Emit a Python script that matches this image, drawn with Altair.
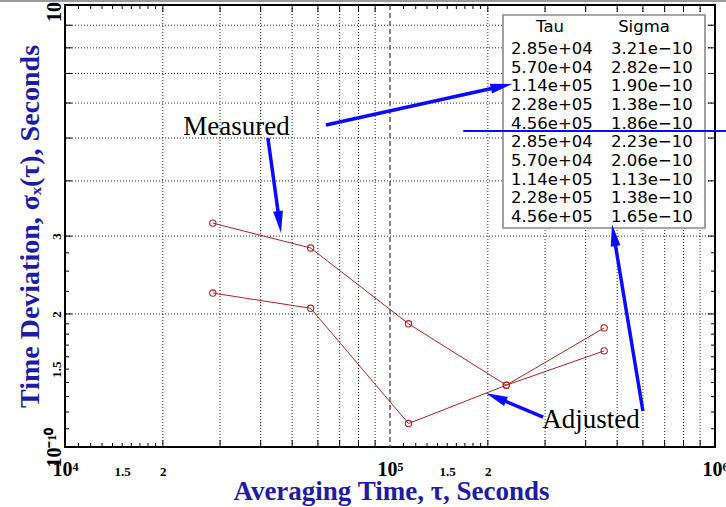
import math
import altair as alt
import pandas as pd

# ---------------- data ----------------
tau = [2.85e4, 5.70e4, 1.14e5, 2.28e5, 4.56e5]
sigma_measured = [3.21e-10, 2.82e-10, 1.90e-10, 1.38e-10, 1.86e-10]
sigma_adjusted = [2.23e-10, 2.06e-10, 1.13e-10, 1.38e-10, 1.65e-10]

x_tick_values = [1e4, 1.5e4, 2e4, 1e5, 1.5e5, 2e5, 1e6]
x_tick_labels = ["10⁴", "1.5", "2", "10⁵", "1.5", "2", "10⁶"]
y_tick_values = [1e-10, 1.5e-10, 2e-10, 3e-10, 1e-9]
y_tick_labels = ["10⁻¹⁰", "1.5", "2", "3", "10⁻⁹"]

grid_mantissas = [2, 3, 4, 5, 6, 7, 8, 9]
minor_mantissas = [1.1, 1.2, 1.3, 1.4, 1.5, 1.6, 1.7, 1.8, 1.9]
y_extra_minor = [2.25e-10, 2.5e-10, 2.75e-10]
x_decades = [1e4, 1e5]
y_decades = [1e-10]
dashed_tau = [1e5]

annot_text = ["Measured", "Adjusted"]
annot_tau = [3.37e4, 4.155e5]
annot_sigma = [5.08e-10, 1.104e-10]

arrow_tail_tau = [6.35e4, 4.21e4, 2.96e5, 6.0e5]
arrow_tail_sigma = [5.35e-10, 5.0e-10, 1.169e-10, 1.206e-10]
arrow_tip_tau = [2.38e5, 4.62e4, 1.97e5, 4.82e5]
arrow_tip_sigma = [6.63e-10, 3.05e-10, 1.325e-10, 3.19e-10]

hline_tau = [1.68e5, 1.3e6]
hline_sigma = [5.19e-10, 5.19e-10]

table_header = ["Tau", "Sigma"]

# ---------------- layout ----------------
W, H = 650, 442
SERIES_COLOR = "#b3201f"
BLUE = "#0a0aff"
TITLE_BLUE = "#1c1ca5"


def px_x(v):
    return (math.log10(v) - 4) / 2 * W


def px_y(v):
    return H - (math.log10(v) + 10) * H


def label_expr(values, labels):
    expr = "''"
    for v, l in reversed(list(zip(values, labels))):
        expr = f"abs(datum.value - {v!r}) < {abs(v) * 1e-6!r} ? '{l}' : {expr}"
    return expr


big_test = "abs(log(datum.value)/LN10 - round(log(datum.value)/LN10)) < 0.001"

xenc = alt.X(
    "tau:Q",
    scale=alt.Scale(type="log", domain=[1e4, 1e6], nice=False),
    axis=alt.Axis(
        values=x_tick_values,
        labelExpr=label_expr(x_tick_values, x_tick_labels),
        labelFont="Liberation Serif",
        labelFontWeight="bold",
        labelFontSize={"condition": {"test": big_test, "value": 20}, "value": 13},
        labelColor="black",
        labelPadding=28,
        labelBaseline="alphabetic",
        labelOverlap=False,
        labelBound=False,
        labelFlush=False,
        ticks=False,
        tickSize=0,
        domain=False,
        grid=False,
        title="Averaging Time, τ, Seconds",
        titleFont="Liberation Serif",
        titleFontWeight="bold",
        titleFontSize=27,
        titleColor=TITLE_BLUE,
        titleX=W / 2 + 1,
        titleY=44,
        titleAlign="center",
        titleBaseline="middle",
    ),
)

yenc = alt.Y(
    "sigma:Q",
    scale=alt.Scale(type="log", domain=[1e-10, 1e-9], nice=False),
    axis=alt.Axis(
        values=y_tick_values,
        labelExpr=label_expr(y_tick_values, y_tick_labels),
        labelFont="Liberation Serif",
        labelFontWeight="bold",
        labelFontSize={"condition": {"test": big_test, "value": 20}, "value": 13},
        labelColor="black",
        labelAngle=270,
        labelAlign="center",
        labelBaseline="alphabetic",
        labelPadding=5,
        labelOverlap=False,
        labelBound=False,
        labelFlush=False,
        ticks=False,
        tickSize=0,
        domain=False,
        grid=False,
        title="Time Deviation, σₓ(τ), Seconds",
        titleFont="Liberation Serif",
        titleFontWeight="bold",
        titleFontSize=28,
        titleColor=TITLE_BLUE,
        titleAngle=270,
        titleX=-35,
        titleY=H / 2,
        titleAlign="center",
        titleBaseline="middle",
    ),
)

# ---------------- tables ----------------
series_df = pd.DataFrame(
    {
        "tau": tau + tau,
        "sigma": sigma_measured + sigma_adjusted,
        "series": ["Measured"] * len(tau) + ["Adjusted"] * len(tau),
    }
)

x_grid = [m * d for d in x_decades for m in grid_mantissas if m * d not in dashed_tau]
y_grid = [m * d for d in y_decades for m in grid_mantissas]
x_minor = [m * d for d in x_decades for m in minor_mantissas]
y_minor = [m * d for d in y_decades for m in minor_mantissas] + y_extra_minor
x_major_ticks = [m * d for d in x_decades for m in grid_mantissas]

xgrid_df = pd.DataFrame({"tau": x_grid})
ygrid_df = pd.DataFrame({"sigma": y_grid})
dashed_df = pd.DataFrame({"tau": dashed_tau})
xminor_df = pd.DataFrame({"tau": x_minor})
xmajor_df = pd.DataFrame({"tau": x_major_ticks})
yminor_df = pd.DataFrame({"sigma": y_minor})
ymajor_df = pd.DataFrame({"sigma": y_grid})

annot_df = pd.DataFrame({"tau": annot_tau, "sigma": annot_sigma, "label": annot_text})

# arrows: shaft ends a little inside the head
shaft_rows, head_rows = [], []
HEAD_LEN = 22
for i, (tt, ts, pt, ps) in enumerate(
    zip(arrow_tail_tau, arrow_tail_sigma, arrow_tip_tau, arrow_tip_sigma)
):
    dx = px_x(pt) - px_x(tt)
    dy = px_y(ps) - px_y(ts)
    length = math.hypot(dx, dy)
    frac = (length - HEAD_LEN * 0.6) / length
    lx = math.log10(tt) + (math.log10(pt) - math.log10(tt)) * frac
    ly = math.log10(ts) + (math.log10(ps) - math.log10(ts)) * frac
    shaft_rows.append({"arrow": i, "ord": 0, "tau": tt, "sigma": ts})
    shaft_rows.append({"arrow": i, "ord": 1, "tau": 10 ** lx, "sigma": 10 ** ly})
    angle = math.degrees(math.atan2(dx, -dy)) % 360
    head_rows.append({"tau": pt, "sigma": ps, "angle": angle})
shaft_df = pd.DataFrame(shaft_rows)
head_df = pd.DataFrame(head_rows)

hline_df = pd.DataFrame({"tau": hline_tau, "sigma": hline_sigma, "ord": [0, 1]})

tab_tau = [f"{v:.2e}" for v in tau + tau]
tab_sigma = [f"{v:.2e}".replace("-", "−") for v in sigma_measured + sigma_adjusted]
table_df = pd.DataFrame(
    {"row": list(range(len(tab_tau))), "tau_s": tab_tau, "sigma_s": tab_sigma}
)

# ---------------- layers ----------------
grid_x = alt.Chart(xgrid_df).mark_rule(
    color="black", strokeWidth=1, strokeDash=[1, 2], opacity=0.85
).encode(x=xenc)
grid_y = alt.Chart(ygrid_df).mark_rule(
    color="black", strokeWidth=1, strokeDash=[1, 2], opacity=0.85
).encode(y=yenc)
dashed = alt.Chart(dashed_df).mark_rule(
    color="#444444", strokeWidth=1.3, strokeDash=[5, 3]
).encode(x=xenc)

tick_style = dict(color="black", strokeWidth=1)
ticks = [
    alt.Chart(xminor_df).mark_rule(**tick_style).encode(x=xenc, y=alt.value(H), y2=alt.value(H - 4)),
    alt.Chart(xminor_df).mark_rule(**tick_style).encode(x=xenc, y=alt.value(0), y2=alt.value(4)),
    alt.Chart(xmajor_df).mark_rule(**tick_style).encode(x=xenc, y=alt.value(H), y2=alt.value(H - 7)),
    alt.Chart(xmajor_df).mark_rule(**tick_style).encode(x=xenc, y=alt.value(0), y2=alt.value(7)),
    alt.Chart(yminor_df).mark_rule(**tick_style).encode(y=yenc, x=alt.value(0), x2=alt.value(4)),
    alt.Chart(yminor_df).mark_rule(**tick_style).encode(y=yenc, x=alt.value(W), x2=alt.value(W - 4)),
    alt.Chart(ymajor_df).mark_rule(**tick_style).encode(y=yenc, x=alt.value(0), x2=alt.value(7)),
    alt.Chart(ymajor_df).mark_rule(**tick_style).encode(y=yenc, x=alt.value(W), x2=alt.value(W - 7)),
]

lines = alt.Chart(series_df).mark_line(color=SERIES_COLOR, strokeWidth=1).encode(
    x=xenc, y=yenc, detail="series:N"
)
points = alt.Chart(series_df).mark_point(
    shape="circle", filled=False, size=40, strokeWidth=1.1, color=SERIES_COLOR, opacity=1
).encode(x=xenc, y=yenc)

table_box = alt.Chart(pd.DataFrame({"k": [0]})).mark_rect(
    fill="white", stroke="#8a8a8a", strokeWidth=1.6
).encode(x=alt.value(438), x2=alt.value(640), y=alt.value(10), y2=alt.value(223))

text_style = dict(font="DejaVu Sans", fontSize=16.5, color="black", baseline="middle")
hdr_tau = alt.Chart(pd.DataFrame({"t": [table_header[0]]})).mark_text(
    align="center", **text_style
).encode(x=alt.value(485), y=alt.value(22), text="t:N")
hdr_sigma = alt.Chart(pd.DataFrame({"t": [table_header[1]]})).mark_text(
    align="center", **text_style
).encode(x=alt.value(579), y=alt.value(22), text="t:N")
col_tau = alt.Chart(table_df).transform_calculate(py="44 + datum.row * 18.65").mark_text(
    align="left", **text_style
).encode(x=alt.value(446), y=alt.Y("py:Q", scale=None, axis=None), text="tau_s:N")
col_sigma = alt.Chart(table_df).transform_calculate(py="44 + datum.row * 18.65").mark_text(
    align="left", **text_style
).encode(x=alt.value(546), y=alt.Y("py:Q", scale=None, axis=None), text="sigma_s:N")

annots = alt.Chart(annot_df).mark_text(
    font="Liberation Serif", fontSize=27, color="black", align="center", baseline="alphabetic"
).encode(x=xenc, y=yenc, text="label:N")

shafts = alt.Chart(shaft_df).mark_line(color=BLUE, strokeWidth=3.5, strokeCap="butt").encode(
    x=xenc, y=yenc, detail="arrow:N", order="ord:Q"
)
heads = alt.Chart(head_df).mark_point(
    shape="M0,0 L0.45,2 L-0.45,2 Z", filled=True, size=484, color=BLUE, opacity=1
).encode(x=xenc, y=yenc, angle=alt.Angle("angle:Q", scale=None))
hline = alt.Chart(hline_df).mark_line(color=BLUE, strokeWidth=2).encode(
    x=xenc, y=yenc, order="ord:Q"
)

top_border = alt.Chart(pd.DataFrame({"k": [0]})).mark_rule(
    color="#9a9a9a", strokeWidth=2
).encode(x=alt.value(-65), x2=alt.value(W + 11), y=alt.value(-4))

chart = alt.layer(
    grid_x, grid_y, dashed, *ticks, lines, points,
    table_box, hdr_tau, hdr_sigma, col_tau, col_sigma,
    annots, shafts, heads, hline, top_border,
).properties(
    width=W,
    height=H,
    autosize=alt.AutoSizeParams(type="none"),
    padding={"left": 65, "top": 5, "right": 11, "bottom": 60},
    background="white",
).configure_view(stroke="black", strokeWidth=2)

chart.save("out.html", embed_options={"renderer": "svg", "actions": False})
